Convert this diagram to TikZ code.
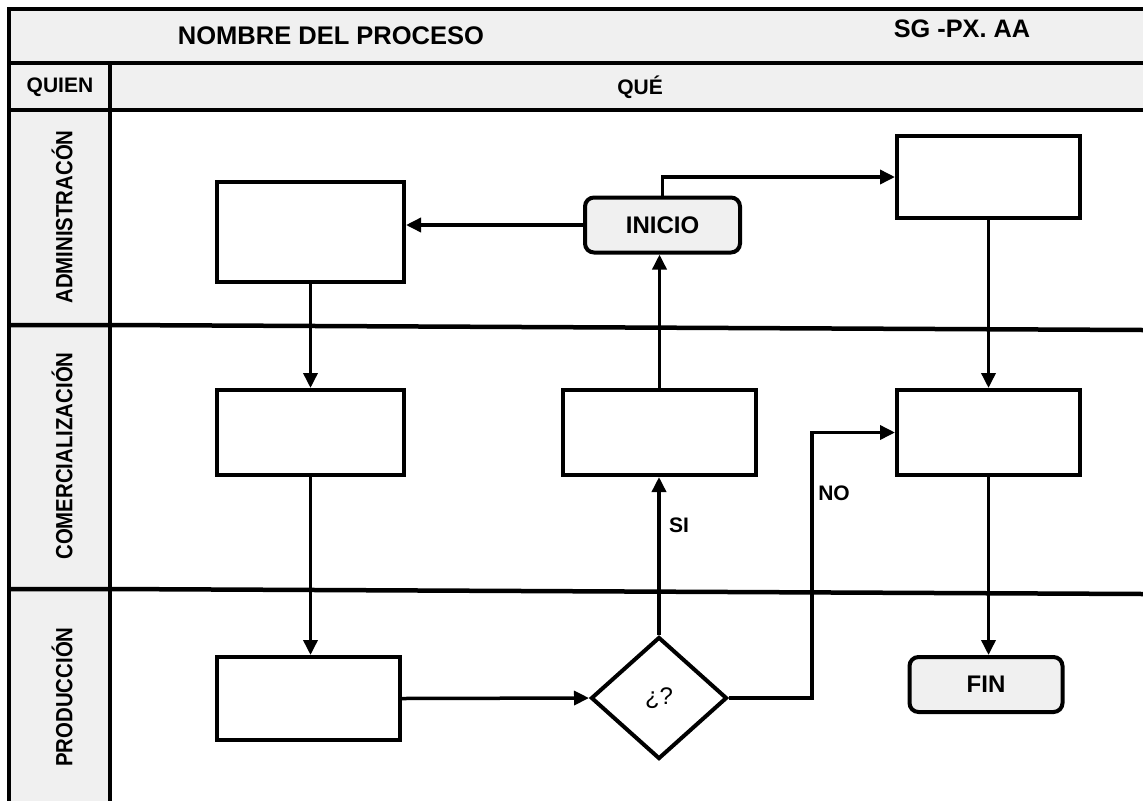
\documentclass[tikz,border=0pt]{standalone}
\usepackage{fontspec}
\setmainfont{Liberation Sans}
\usetikzlibrary{arrows.meta,shapes.geometric}
\definecolor{panel}{HTML}{F0F0F0}
\newcommand{\tallname}[1]{\scalebox{1}[1.15]{#1}}
\begin{document}
\begin{tikzpicture}[x=1pt,y=-1pt,
  frame/.style={line width=4.5pt},
  lane/.style={line width=4.5pt},
  stepbox/.style={draw,line width=4pt,fill=white,inner sep=0pt,
    minimum width=#1},
  stepbox/.default=187pt,
  terminal/.style={draw,line width=4pt,fill=panel,rounded corners=9pt,
    inner sep=0pt,font=\bfseries\fontsize{24}{24}\selectfont},
  decision/.style={draw,diamond,line width=4pt,fill=white,inner sep=0pt,
    minimum width=136pt,minimum height=122pt,font=\fontsize{24}{24}\selectfont},
  flow/.style={line width=3.5pt,-{Triangle[length=15pt,width=14pt]}},
  lanetext/.style={rotate=90,font=\bfseries\fontsize{20.4}{20.4}\selectfont},
  tag/.style={font=\bfseries\fontsize{21}{21}\selectfont}]
\useasboundingbox (0,0) rectangle (1143,801);
% header band, column band and lane-name column
\fill[panel] (9,9) rectangle (1143,110);
\fill[panel] (9,110) rectangle (110,801);
\draw[frame] (1143,9) -- (9,9) -- (9,801);
\draw[frame] (9,63) -- (1143,63);
\draw[frame] (9,110) -- (1143,110);
\draw[frame] (110,63) -- (110,801);
% lane separators
\draw[lane] (9,325) -- (110,325) -- (1143,330);
\draw[lane] (9,589) -- (110,589) -- (1143,594);
% header texts
\node[font=\bfseries\fontsize{25.5}{25.5}\selectfont] (title) at (331,36) {NOMBRE DEL PROCESO};
\node[font=\bfseries\fontsize{25.3}{25.3}\selectfont] (code) at (962,29) {SG -PX. AA};
\node[tag] (quien) at (60,87) {QUIEN};
\node[tag] (que) at (640,87) {QUÉ};
\node[lanetext] (l1) at (62,217) {\tallname{ADMINISTRACÓN}};
\node[lanetext] (l2) at (62,456) {\tallname{COMERCIALIZACIÓN}};
\node[lanetext] (l3) at (62,697) {\tallname{PRODUCCIÓN}};
% process steps
\node[stepbox, minimum height=100pt] (a1) at (310.5,232) {};
\node[terminal, minimum width=155pt, minimum height=55pt] (ini) at (662.5,225) {INICIO};
\node[stepbox=183pt, minimum height=82pt] (a3) at (988.5,177) {};
\node[stepbox, minimum height=85pt] (c1) at (310.5,432.5) {};
\node[stepbox=193pt, minimum height=85pt] (c2) at (659.5,432.5) {};
\node[stepbox=183pt, minimum height=85pt] (c3) at (988.5,432.5) {};
\node[stepbox=183pt, minimum height=83pt] (p1) at (308.5,698.5) {};
\node[decision] (dec) at (659,698) {¿?};
\node[terminal, minimum width=153pt, minimum height=55pt] (fin) at (986,684.5) {FIN};
% connectors
\draw[flow] (ini.west) -- (ini.west -| a1.east);
\draw[flow] (ini.north) |- (a3.west);
\draw[flow] (a1.south) -- (c1.north);
\draw[flow] (c1.south) -- (c1.south |- p1.north);
\draw[flow] (p1.east) -- (dec.west);
\draw[flow] (dec.north) -- (dec.north |- c2.south);
\node[tag] (si) at (679,525) {SI};
\draw[flow] (c2.north) -- (c2.north |- ini.south);
\coordinate (bend) at (812,698);
\draw[flow] (dec.east) -- (bend) |- (c3.west);
\node[tag] (no) at (834,493) {NO};
\draw[flow] (a3.south) -- (c3.north);
\draw[flow] (c3.south) -- (c3.south |- fin.north);
\end{tikzpicture}
\end{document}
